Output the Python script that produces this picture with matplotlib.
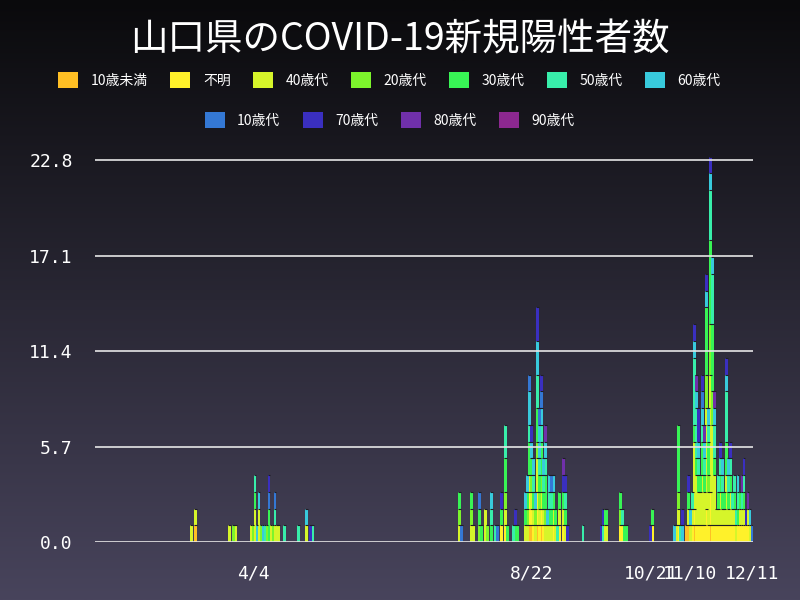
import numpy as np
import pandas as pd
import matplotlib
matplotlib.use("Agg")
import matplotlib.pyplot as plt
import matplotlib.dates as mdates
from matplotlib.patches import Patch

plt.rcParams['font.family'] = ['Noto Sans CJK JP', 'DejaVu Sans']

# age groups in stacking / legend order
age_labels = ["10歳未満", "不明", "40歳代", "20歳代", "30歳代", "50歳代",
              "60歳代", "10歳代", "70歳代", "80歳代", "90歳代"]
age_codes = ["U", "N", "4", "2", "3", "5", "6", "1", "7", "8", "9"]
age_colors = ["#ffbf24", "#fff12a", "#d6f52a", "#7cf52c", "#38f455", "#38eeaa",
              "#38cadc", "#3478d4", "#3a2fc0", "#7030aa", "#8c2890"]

# one entry per day with cases: the age code of every case on that day
case_dates = [
    "03-04", "03-06", "03-23", "03-25", "03-26",
    "04-03", "04-04", "04-05", "04-06", "04-07", "04-08", "04-09", "04-10",
    "04-11", "04-12", "04-13", "04-14", "04-15", "04-16", "04-17", "04-20",
    "04-27", "05-01", "05-03", "05-04",
    "07-17", "07-18", "07-23", "07-24", "07-27", "07-28", "07-30", "07-31",
    "08-02", "08-04", "08-05", "08-07", "08-09", "08-10", "08-13", "08-14",
    "08-15", "08-19", "08-20", "08-21", "08-22", "08-23", "08-24", "08-25",
    "08-26", "08-27", "08-28", "08-29", "08-30", "08-31",
    "09-01", "09-02", "09-03", "09-04", "09-05", "09-07", "09-08", "09-09",
    "09-17", "09-26", "09-27", "09-28", "09-29",
    "10-06", "10-07", "10-08", "10-09", "10-21", "10-22",
    "11-02", "11-03", "11-04", "11-05", "11-06", "11-08", "11-09", "11-10",
    "11-11", "11-12", "11-13", "11-14", "11-15", "11-16", "11-17", "11-18",
    "11-19", "11-20", "11-21", "11-22", "11-23", "11-24", "11-25", "11-26",
    "11-27", "11-28", "11-29", "11-30",
    "12-01", "12-02", "12-03", "12-04", "12-05", "12-06", "12-07", "12-08",
    "12-09", "12-10", "12-11",
]
case_ages = [
    "4", "U4", "4", "2", "4",
    "4", "2", "4435", "6", "446", "2", "6", "5",
    "2", "3317", "4", "2", "451", "4", "4", "5",
    "5", "46", "7", "5",
    "423", "1", "423", "4", "231", "3", "44", "2",
    "356", "5", "1", "N37", "N423355", "3", "5", "37",
    "3", "436", "4236", "UNN4335661", "UN42367", "N4356", "426", "UNN44233556677",
    "N4235661", "UN42335617", "N4356", "4233568", "46", "4356",
    "4351", "N436", "43", "5", "N43", "N4378", "4357", "7",
    "5", "7", "57", "43", "43",
    "N23", "N5", "3", "3", "7", "N3",
    "6", "4", "N423333", "5", "67", "U", "U437", "46",
    "N45", "UN44443555567", "N444355568", "N4435677", "N443", "N444335617", "N443568", "NN44444422333367",
    "N4423356", "UNN44444442223333355567", "N4444442233335556", "N44435568", "N4", "N435", "N44357", "N4356",
    "N43", "N4443355567", "N4356", "N44357",
    "N45", "N435", "45", "N356", "N43", "N458", "N4357", "N7",
    "N48", "46", "1",
]

tick_dates = ["2020-04-04", "2020-08-22", "2020-10-21", "2020-11-10", "2020-12-11"]
tick_labels = ["4/4", "8/22", "10/21", "11/10", "12/11"]
y_ticks = [0.0, 5.7, 11.4, 17.1, 22.8]

days = pd.to_datetime(["2020-" + d for d in case_dates])
counts = np.array([[s.count(c) for s in case_ages] for c in age_codes], dtype=float)

fig = plt.figure(figsize=(8, 6), dpi=100)

# background gradient
bg = fig.add_axes([0, 0, 1, 1], zorder=-10)
grad = np.linspace(0, 1, 256).reshape(-1, 1)
top = np.array([10, 10, 12]) / 255
bot = np.array([72, 68, 92]) / 255
img = top + (bot - top) * grad[:, :, None]
bg.imshow(img, aspect='auto', extent=[0, 1, 0, 1])
bg.axis('off')

ax = fig.add_axes([95 / 800, 58 / 600, 658 / 800, 388.6 / 600])
ax.set_facecolor('none')

x = mdates.date2num(days)
bw = 1.4
bottom = np.zeros(len(x))
for k, code in enumerate(age_codes):
    h = counts[k]
    m = h > 0
    ax.bar(x[m], h[m], bottom=bottom[m], width=bw, color=age_colors[k],
           edgecolor='none', linewidth=0)
    bottom += h
    # thin dark separator on top of each age segment
    ax.hlines(bottom[m], x[m] - bw / 2, x[m] + bw / 2, color='#1e1e26',
              linewidth=0.8, zorder=1.2)

ax.set_xlim(mdates.date2num(pd.Timestamp("2020-01-16")) - 0.5,
            mdates.date2num(pd.Timestamp("2020-12-11")) + 0.5)
ax.set_ylim(0, 23.2)
ax.set_yticks(y_ticks)
ax.set_yticklabels([f"{v:.1f}" for v in y_ticks], family='DejaVu Sans Mono')
ax.set_xticks(mdates.date2num(pd.to_datetime(tick_dates)))
ax.set_xticklabels(tick_labels, family='DejaVu Sans Mono')
ax.tick_params(axis='both', length=0, colors='white', labelsize=13)
ax.tick_params(axis='y', pad=16)
ax.tick_params(axis='x', pad=16)
for s in ax.spines.values():
    s.set_visible(False)
ax.yaxis.grid(True, color='#e6e6e6', linewidth=1.2)

fig.text(0.5, 1 - 40 / 600, "山口県のCOVID-19新規陽性者数", ha='center', va='center',
         color='white', fontsize=27)

handles = [Patch(facecolor=c, edgecolor='none') for c in age_colors]
leg_kw = dict(loc='center', frameon=False, fontsize=10, labelcolor='white',
              handlelength=1.45, handleheight=1.5, handletextpad=0.9,
              columnspacing=1.6)
fig.legend(handles[:7], age_labels[:7], ncol=7,
           bbox_to_anchor=(0.487, 1 - 80 / 600), **leg_kw)
fig.legend(handles[7:], age_labels[7:], ncol=4,
           bbox_to_anchor=(0.487, 1 - 120 / 600), **leg_kw)

fig.savefig("out.png", dpi=100)
